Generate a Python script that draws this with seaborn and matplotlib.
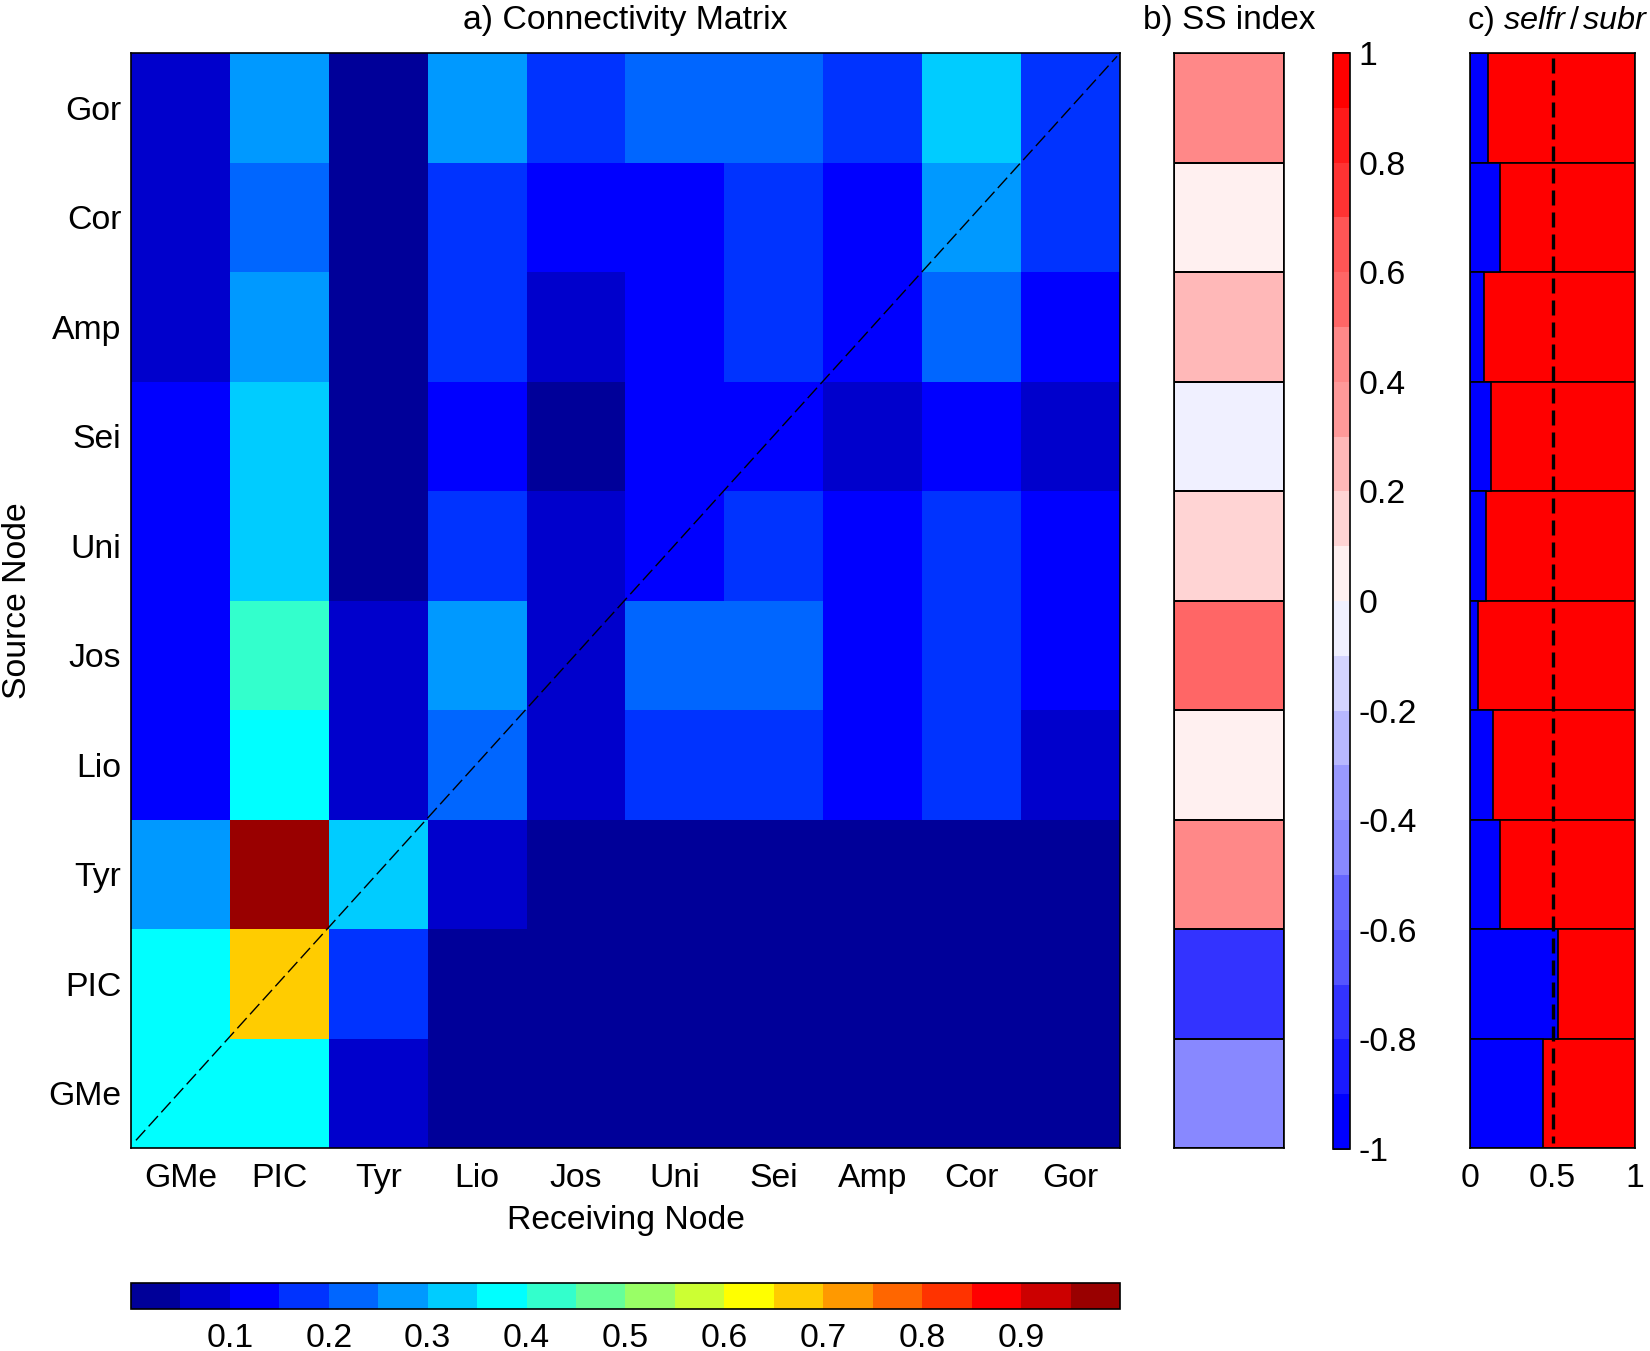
import numpy as np
import seaborn as sns
import matplotlib.pyplot as plt
from matplotlib.colors import ListedColormap

# Node names, top row of the figure first
receiving_nodes = ['GMe', 'PIC', 'Tyr', 'Lio', 'Jos', 'Uni', 'Sei', 'Amp', 'Cor', 'Gor']
source_nodes = ['Gor', 'Cor', 'Amp', 'Sei', 'Uni', 'Jos', 'Lio', 'Tyr', 'PIC', 'GMe']

# Connectivity (rows = source, columns = receiving)
row_gor = [0.075, 0.275, 0.025, 0.275, 0.175, 0.225, 0.225, 0.175, 0.325, 0.175]
row_cor = [0.075, 0.225, 0.025, 0.175, 0.125, 0.125, 0.175, 0.125, 0.275, 0.175]
row_amp = [0.075, 0.275, 0.025, 0.175, 0.075, 0.125, 0.175, 0.125, 0.225, 0.125]
row_sei = [0.125, 0.325, 0.025, 0.125, 0.025, 0.125, 0.125, 0.075, 0.125, 0.075]
row_uni = [0.125, 0.325, 0.025, 0.175, 0.075, 0.125, 0.175, 0.125, 0.175, 0.125]
row_jos = [0.125, 0.425, 0.075, 0.275, 0.075, 0.225, 0.225, 0.125, 0.175, 0.125]
row_lio = [0.125, 0.375, 0.075, 0.225, 0.075, 0.175, 0.175, 0.125, 0.175, 0.075]
row_tyr = [0.275, 0.975, 0.325, 0.075, 0.025, 0.025, 0.025, 0.025, 0.025, 0.025]
row_pic = [0.375, 0.675, 0.175, 0.025, 0.025, 0.025, 0.025, 0.025, 0.025, 0.025]
row_gme = [0.375, 0.375, 0.075, 0.025, 0.025, 0.025, 0.025, 0.025, 0.025, 0.025]
matrix = np.array([row_gor, row_cor, row_amp, row_sei, row_uni,
                   row_jos, row_lio, row_tyr, row_pic, row_gme])

ss_index = [0.45, 0.05, 0.25, -0.05, 0.15, 0.55, 0.05, 0.45, -0.75, -0.45]
subr_fraction = [0.107, 0.18, 0.087, 0.125, 0.095, 0.05, 0.14, 0.18, 0.536, 0.445]
selfr_total = [1] * 10

matrix_ticks = [0.1, 0.2, 0.3, 0.4, 0.5, 0.6, 0.7, 0.8, 0.9]
ss_ticks = [-1, -0.8, -0.6, -0.4, -0.2, 0, 0.2, 0.4, 0.6, 0.8, 1]

# Colour classes
jet_colors = ['#000099', '#0000CC', '#0000FF', '#0033FF', '#0066FF', '#0099FF', '#00CCFF',
              '#00FFFF', '#33FFCC', '#66FF99', '#99FF66', '#CCFF33', '#FFFF00', '#FFCC00',
              '#FF9900', '#FF6600', '#FF3300', '#FF0000', '#CC0000', '#990000']
blue_red_colors = ['#0000FF', '#1A1AFF', '#3333FF', '#5555FF', '#6666FF', '#8888FF', '#9999FF',
                   '#B8B8FF', '#D4D4FF', '#F0F0FF', '#FFF0F0', '#FFD4D4', '#FFB8B8', '#FF9999',
                   '#FF8888', '#FF6666', '#FF5555', '#FF3333', '#FF1A1A', '#FF0000']

sns.set_style('white')
plt.rcParams['font.family'] = ['Liberation Sans', 'DejaVu Sans']
plt.rcParams['mathtext.fontset'] = 'custom'
plt.rcParams['mathtext.rm'] = 'Liberation Sans'
plt.rcParams['mathtext.it'] = 'Liberation Sans:italic'
plt.rcParams['axes.unicode_minus'] = False
plt.rcParams['text.color'] = 'black'
plt.rcParams['axes.labelcolor'] = 'black'
plt.rcParams['xtick.color'] = 'black'
plt.rcParams['ytick.color'] = 'black'

FONT = 24.3

W, H = 1650, 1351
fig = plt.figure(figsize=(W / 100, H / 100), dpi=100)


def pixel_axes(left, top, right, bottom):
    return fig.add_axes([left / W, 1 - bottom / H, (right - left) / W, (bottom - top) / H])


ax_matrix = pixel_axes(131, 53, 1120, 1148)
ax_matrix_cbar = pixel_axes(131, 1283, 1120, 1309)
ax_ss = pixel_axes(1174, 53, 1284, 1148)
ax_ss_cbar = pixel_axes(1333, 53, 1350, 1149)
ax_ratio = pixel_axes(1470, 53, 1635, 1148)

# a) connectivity matrix
sns.heatmap(matrix, ax=ax_matrix, cmap=ListedColormap(jet_colors), vmin=0, vmax=1,
            xticklabels=receiving_nodes, yticklabels=source_nodes,
            cbar_ax=ax_matrix_cbar,
            cbar_kws={'orientation': 'horizontal', 'ticks': matrix_ticks})
ax_matrix.plot([0.05, 9.97], [9.93, 0.03], color='black', lw=1.0, dashes=(10, 3.6))
ax_matrix.tick_params(axis='both', length=0, labelsize=FONT)
ax_matrix.tick_params(axis='x', pad=11, rotation=0)
ax_matrix.tick_params(axis='y', pad=7, rotation=0)
for label in ax_matrix.get_yticklabels():
    label.set_verticalalignment('center_baseline')
ax_matrix.set_xlabel('Receiving Node', fontsize=FONT, labelpad=8)
ax_matrix.set_ylabel('Source Node', fontsize=FONT, labelpad=11)
ax_matrix.set_title('a) Connectivity Matrix', fontsize=FONT, pad=17)

cbar = ax_matrix.collections[0].colorbar
cbar.outline.set_visible(True)
cbar.outline.set_linewidth(1.2)
cbar.outline.set_edgecolor('black')
ax_matrix_cbar.tick_params(axis='x', direction='in', length=19, width=1.2, pad=10, labelsize=FONT)
ax_matrix_cbar.set_xticklabels([f'{t:g}' for t in matrix_ticks])

# b) SS index
sns.heatmap(np.array(ss_index).reshape(-1, 1), ax=ax_ss, cmap=ListedColormap(blue_red_colors),
            vmin=-1, vmax=1, linewidths=1.2, linecolor='black',
            xticklabels=False, yticklabels=False, cbar_ax=ax_ss_cbar,
            cbar_kws={'ticks': ss_ticks})
ax_ss.set_title('b) SS index', fontsize=24, pad=17)

cbar = ax_ss.collections[0].colorbar
cbar.outline.set_visible(True)
cbar.outline.set_linewidth(1.2)
cbar.outline.set_edgecolor('black')
ax_ss_cbar.tick_params(axis='y', direction='in', length=12.5, width=1.2, pad=6, labelsize=FONT)
ax_ss_cbar.set_yticklabels([f'{t:g}' for t in ss_ticks])

# c) selfr / subr fraction
sns.barplot(x=selfr_total, y=source_nodes, ax=ax_ratio, color='#FF0000', saturation=1,
            width=1, edgecolor='black', linewidth=1.2)
sns.barplot(x=subr_fraction, y=source_nodes, ax=ax_ratio, color='#0000FF', saturation=1,
            width=1, edgecolor='black', linewidth=1.2)
ax_ratio.plot([0.5, 0.5], [-0.45, 9.45], color='black', lw=2.4, dashes=(4.5, 2.1))
ax_ratio.set_xlim(0, 1)
ax_ratio.set_ylim(9.5, -0.5)
ax_ratio.set_xticks([0, 0.5, 1])
ax_ratio.set_xticklabels(['0', '0.5', '1'])
ax_ratio.set_yticks([])
ax_ratio.set_xlabel('')
ax_ratio.set_ylabel('')
ax_ratio.tick_params(axis='x', length=0, pad=11, labelsize=FONT)
ax_ratio.set_title(r'c) $\mathit{selfr\,/\,subr}$', fontsize=23.4, pad=17, x=0.53)

# Frames around the panels
for ax in [ax_matrix, ax_ss, ax_ratio]:
    for spine in ax.spines.values():
        spine.set_visible(True)
        spine.set_color('black')
        spine.set_linewidth(1.2)

fig.savefig('out.png', dpi=100)
